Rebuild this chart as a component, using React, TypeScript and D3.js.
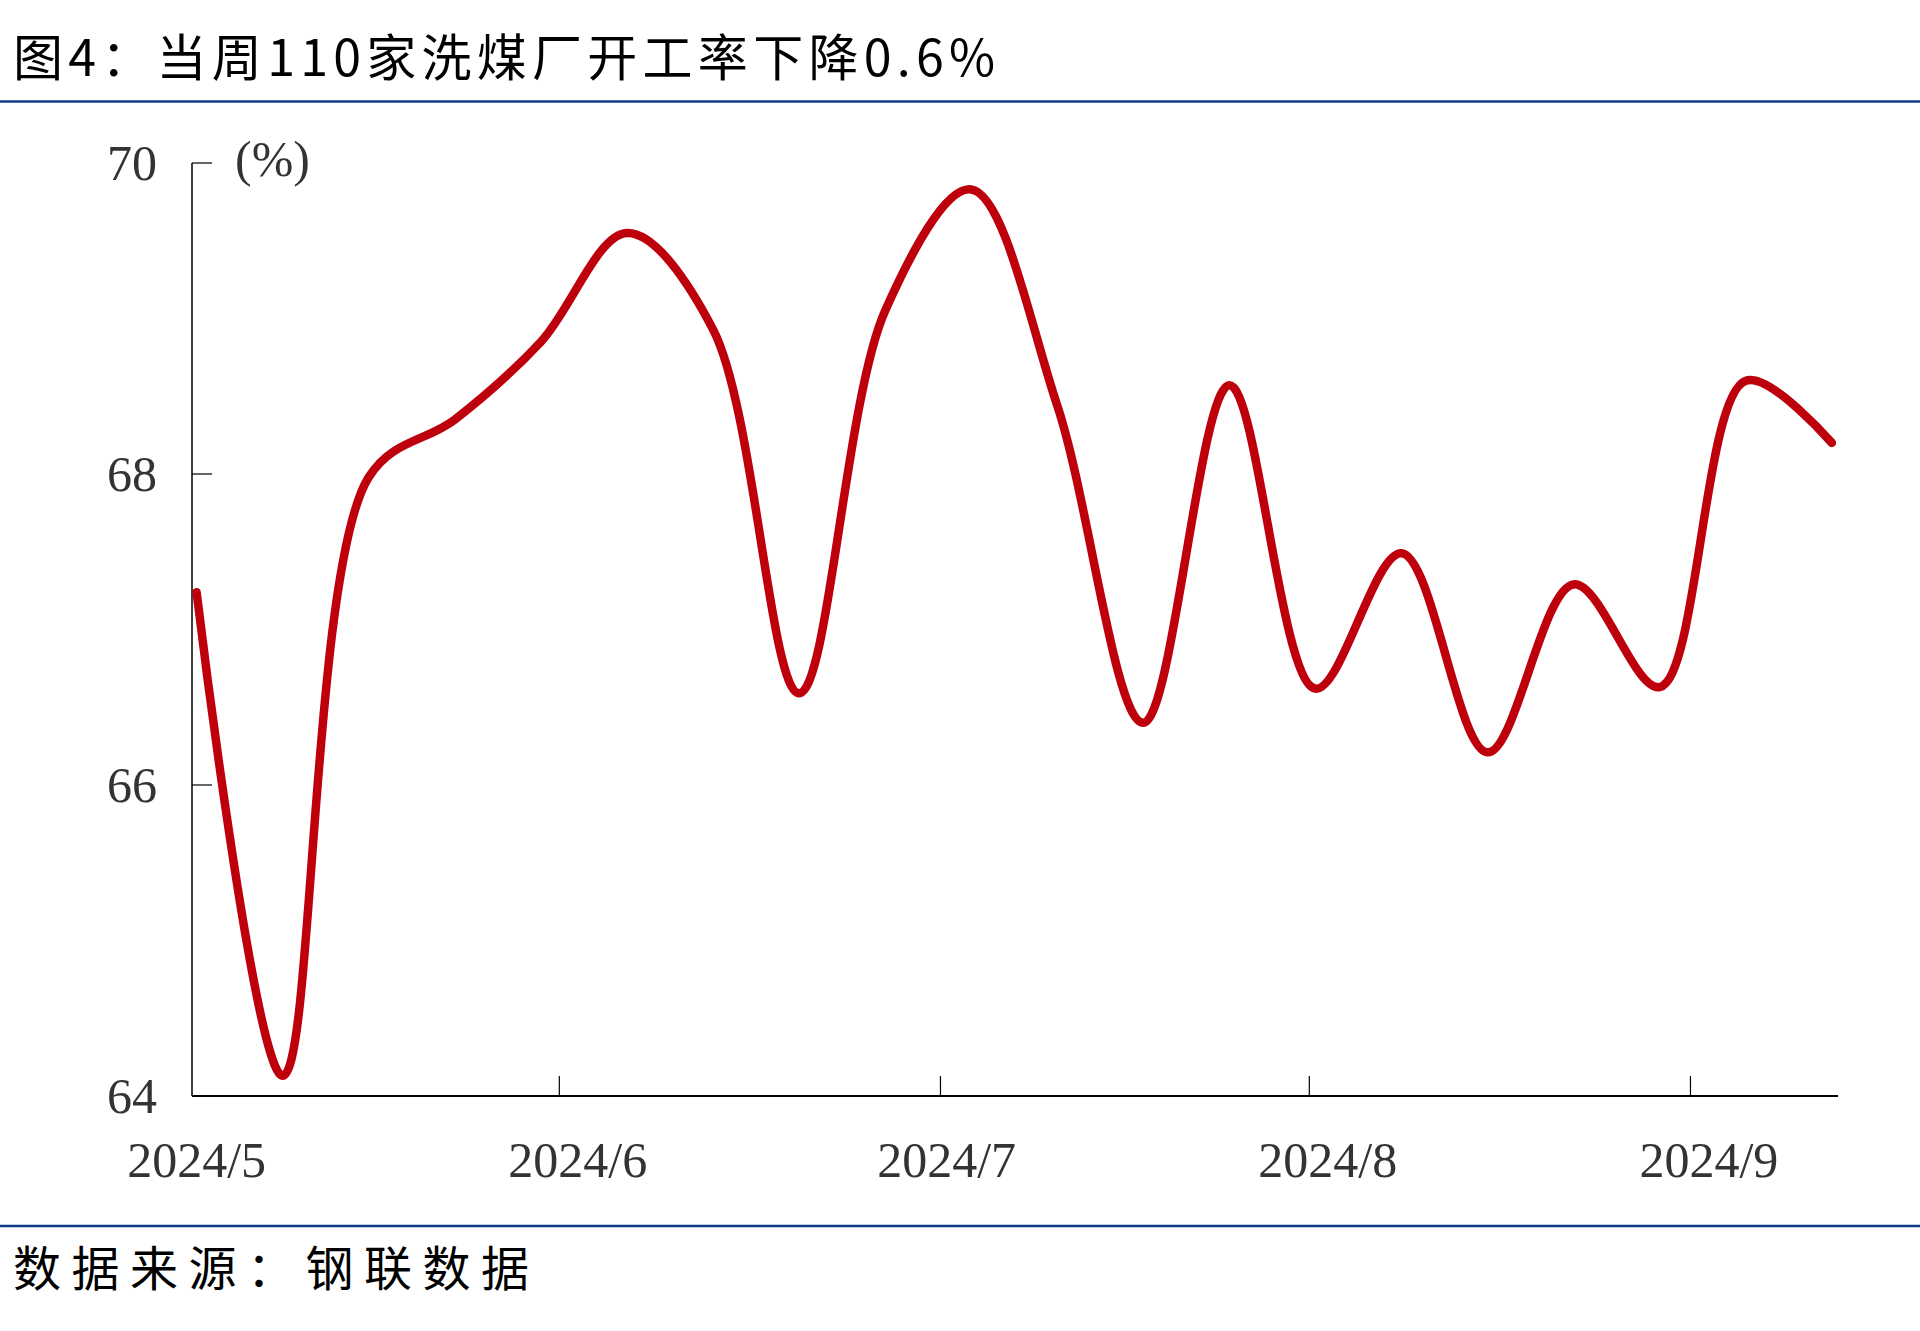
import * as d3 from 'd3'

// 110家洗煤厂开工率（%），周度
const dates = [
  '2024-05-01', '2024-05-08', '2024-05-15', '2024-05-22', '2024-05-29',
  '2024-06-05', '2024-06-12', '2024-06-19', '2024-06-26', '2024-07-03',
  '2024-07-10', '2024-07-17', '2024-07-24', '2024-07-31', '2024-08-07',
  '2024-08-14', '2024-08-21', '2024-08-28', '2024-09-04', '2024-09-11',
]
const values = [
  67.24, 64.13, 67.98, 68.35, 68.85,
  69.55, 68.93, 66.59, 69.05, 69.83,
  68.44, 66.4, 68.57, 66.62, 67.49,
  66.21, 67.29, 66.63, 68.6, 68.2,
]
const yTicks = [64, 66, 68, 70]
const monthLabels = ['2024/5', '2024/6', '2024/7', '2024/8', '2024/9']
const monthStarts = ['2024-05-01', '2024-06-01', '2024-07-01', '2024-08-01', '2024-09-01']
const tickDates = ['2024-05-30 12', '2024-06-30 12', '2024-07-30 12', '2024-08-30 12']

const title = '图4：当周110家洗煤厂开工率下降0.6%'
const source = '数据来源：钢联数据'

const W = 1920
const H = 1331
const parseDay = d3.timeParse('%Y-%m-%d')
const parseHour = d3.timeParse('%Y-%m-%d %H')

const cjk = '"Noto Sans CJK SC", sans-serif'
const serif = '"Liberation Serif", "Times New Roman", serif'

export default function App() {
  const data = dates.map((d, i) => ({ date: parseDay(d) as Date, value: values[i] }))

  const x = d3
    .scaleTime()
    .domain([new Date(2024, 3, 30, 15), new Date(2024, 8, 11, 12)])
    .range([192, 1838])

  const y = d3.scaleLinear().domain([64, 70]).range([1096, 163])

  const line = d3
    .line<{ date: Date; value: number }>()
    .x(d => x(d.date))
    .y(d => y(d.value))
    .curve(d3.curveCatmullRom.alpha(0.5))

  const [x0, x1] = x.range()
  const [yb, yt] = y.range()

  return (
    <svg
      width={W}
      height={H}
      style={{ position: 'absolute', left: 0, top: 0, background: '#fff' }}
    >
      <text x={13} y={76} fontFamily={cjk} fontSize={50} fill="#000" textLength={982} lengthAdjust="spacing">
        {title}
      </text>
      <line x1={0} x2={W} y1={101.5} y2={101.5} stroke="#0E3C86" strokeWidth={2.5} />

      {/* y axis */}
      <line x1={x0} x2={x0} y1={yt} y2={yb} stroke="#000" strokeWidth={1.5} />
      {yTicks.map(t => (
        <g key={t}>
          <line x1={x0} x2={x0 + 20} y1={y(t)} y2={y(t)} stroke="#000" strokeWidth={1.2} />
          <text x={157} y={y(t) + 16.5} textAnchor="end" fontFamily={serif} fontSize={50} fill="#333">
            {t}
          </text>
        </g>
      ))}
      <text x={235} y={176} fontFamily={serif} fontSize={50} fill="#333">
        (%)
      </text>

      {/* x axis */}
      <line x1={x0} x2={x1} y1={yb} y2={yb} stroke="#000" strokeWidth={2} />
      {tickDates.map(t => {
        const px = x(parseHour(t) as Date)
        return <line key={t} x1={px} x2={px} y1={yb} y2={yb - 20} stroke="#000" strokeWidth={1.2} />
      })}
      {monthLabels.map((lab, i) => (
        <text
          key={lab}
          x={x(parseDay(monthStarts[i]) as Date)}
          y={1177}
          textAnchor="middle"
          fontFamily={serif}
          fontSize={50}
          fill="#333"
        >
          {lab}
        </text>
      ))}

      <path
        d={line(data) ?? ''}
        fill="none"
        stroke="#BE000C"
        strokeWidth={8.5}
        strokeLinecap="round"
        strokeLinejoin="round"
      />

      <line x1={0} x2={W} y1={1226} y2={1226} stroke="#0E3C86" strokeWidth={2.5} />
      <text x={13} y={1286} fontFamily={cjk} fontSize={48} fill="#000" textLength={516} lengthAdjust="spacing">
        {source}
      </text>
    </svg>
  )
}
